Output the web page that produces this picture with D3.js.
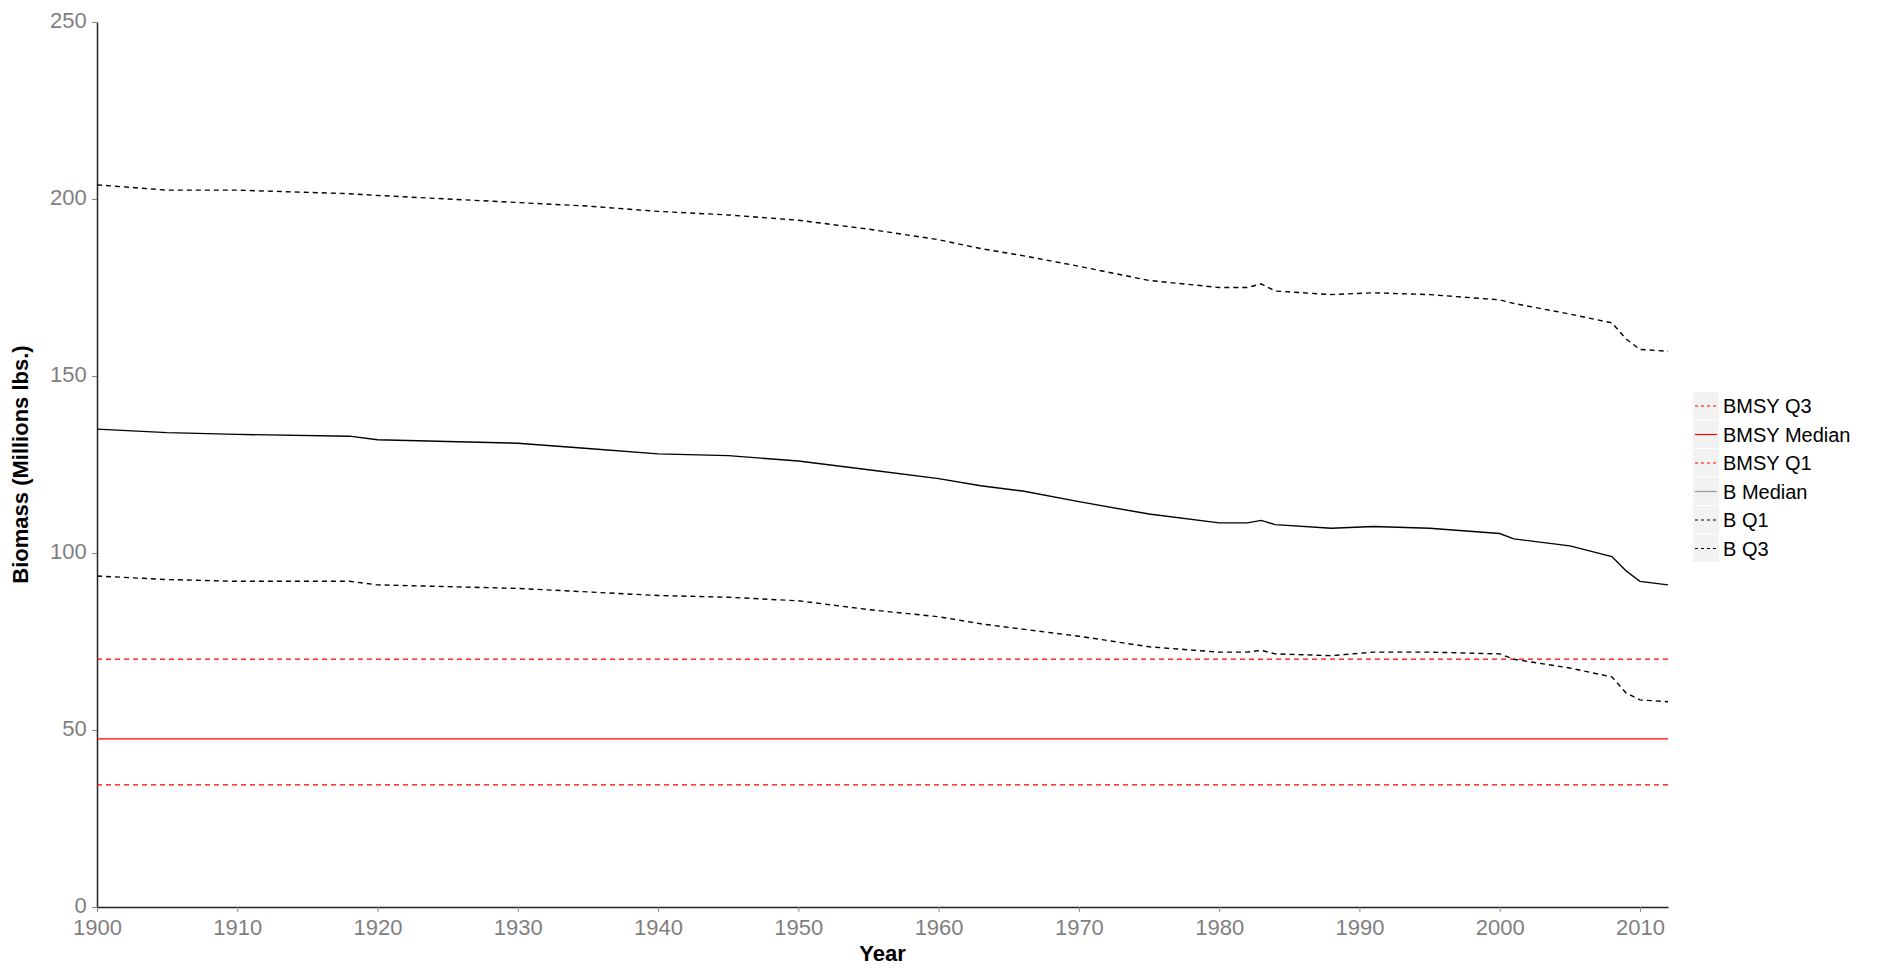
<!DOCTYPE html>
<html><head><meta charset="utf-8">
<script src="https://cdn.jsdelivr.net/npm/d3@7"></script>
<style>body{margin:0;background:#fff}svg{font-family:Arial,"Liberation Sans",sans-serif}</style>
</head><body><svg width="1881" height="969"></svg>
<script>
const years = [1900,1905,1910,1918,1920,1925,1930,1935,1940,1945,1950,1955,1960,1963,1966,1970,1975,1980,1982,1983,1984,1988,1991,1995,2000,2001,2005,2008,2009,2010,2012];
const bMedian = [135,134,133.5,133,132,131.5,131,129.5,128,127.5,126,123.5,121,119,117.5,114.5,111,108.5,108.5,109.2,108,107,107.5,107,105.5,104,102,99,95,92,91];
const bQ3 = [204,202.5,202.5,201.5,201,200,199,198,196.5,195.5,194,191.5,188.5,186,184,181,177,175,175,176,174,173,173.5,173,171.5,170.5,167.5,165,160.5,157.5,157];
const bQ1 = [93.5,92.5,92,92,91,90.5,90,89,88,87.5,86.5,84,82,80,78.5,76.5,73.5,72,72,72.5,71.5,71,72,72,71.5,70,67.5,65,60.5,58.5,58];
const bmsy = {q3:70, median:47.5, q1:34.5};
const yTicks = [0,50,100,150,200,250];
const xTicks = [1900,1910,1920,1930,1940,1950,1960,1970,1980,1990,2000,2010];

const svg = d3.select("svg");
const x = d3.scaleLinear().domain([1900,2012]).range([97,1668]);
const y = d3.scaleLinear().domain([0,250]).range([907,22]);

const line = vals => d3.line().x((d,i)=>x(years[i])).y(d=>y(d))(vals);

svg.append("g").attr("transform","translate(0,907)")
  .call(d3.axisBottom(x).tickValues(xTicks).tickFormat(d3.format("d")).tickSize(5).tickSizeOuter(0))
  .call(g=>{g.select(".domain").attr("stroke","#222").attr("stroke-width",1.5);
    g.selectAll(".tick line").attr("stroke","#888");
    g.selectAll("text").attr("fill","#7f7f7f").attr("font-size",22).attr("dy","0.9em");});
svg.append("g").attr("transform","translate(97,0)")
  .call(d3.axisLeft(y).tickValues(yTicks).tickSize(5).tickSizeOuter(0))
  .call(g=>{g.select(".domain").attr("stroke","#222").attr("stroke-width",1.5);
    g.selectAll(".tick line").attr("stroke","#888");
    g.selectAll("text").attr("fill","#7f7f7f").attr("font-size",22).attr("dx","-0.1em").attr("dy","0.25em");});

// BMSY reference lines
[[bmsy.q3,"5,4"],[bmsy.median,null],[bmsy.q1,"5,4"]].forEach(([v,dash])=>{
  svg.append("line").attr("x1",x(1900)).attr("x2",x(2012)).attr("y1",y(v)).attr("y2",y(v))
    .attr("stroke","#ff0000").attr("stroke-width",1.3).attr("stroke-dasharray",dash);
});
[[bQ3,"5,4"],[bMedian,null],[bQ1,"5,4"]].forEach(([vals,dash])=>{
  svg.append("path").attr("d",line(vals)).attr("fill","none").attr("stroke","#000")
    .attr("stroke-width",1.4).attr("stroke-dasharray",dash);
});

svg.append("text").attr("x",(97+1668)/2).attr("y",961).attr("text-anchor","middle")
  .attr("font-weight","bold").attr("font-size",22).text("Year");
svg.append("text").attr("transform",`translate(28,${(22+907)/2}) rotate(-90)`).attr("text-anchor","middle")
  .attr("font-weight","bold").attr("font-size",22).text("Biomass (Millions lbs.)");

const legend = [["BMSY Q3","#ff0000","3,3"],["BMSY Median","#ff0000",null],["BMSY Q1","#ff0000","3,3"],
  ["B Median","#999",null],["B Q1","#000","3,3"],["B Q3","#000","3,3"]];
const lg = svg.append("g").attr("transform","translate(1693,392)");
legend.forEach(([t,c,dash],i)=>{
  const g = lg.append("g").attr("transform",`translate(0,${i*28.5})`);
  g.append("rect").attr("width",26).attr("height",27.5).attr("fill","#f2f2f2");
  g.append("line").attr("x1",2).attr("x2",24).attr("y1",14).attr("y2",14).attr("stroke",c)
    .attr("stroke-width",1.2).attr("stroke-dasharray",dash);
  g.append("text").attr("x",30).attr("y",21).attr("font-size",20).text(t);
});
</script></body></html>
